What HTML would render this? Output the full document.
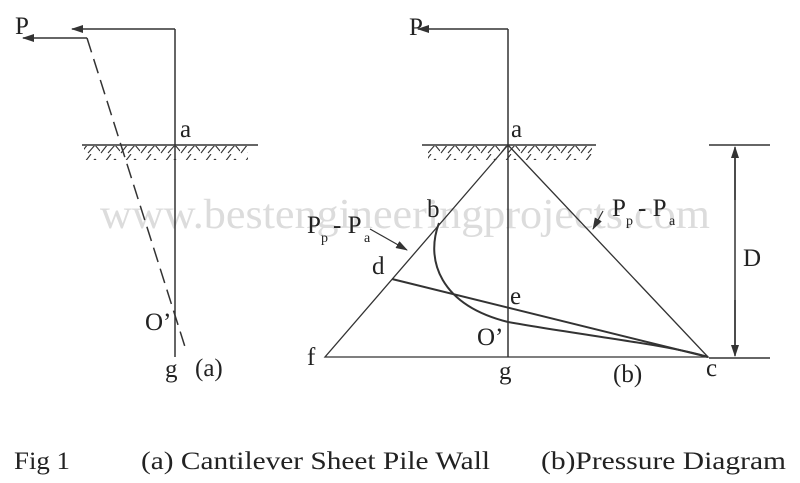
<!DOCTYPE html>
<html><head><style>
body{margin:0;background:#fff;}
svg{display:block}
text{font-family:"Liberation Serif",serif;fill:#222}
</style></head><body>
<svg width="800" height="483" viewBox="0 0 800 483" xmlns="http://www.w3.org/2000/svg">
<defs>
<marker id="ah" markerWidth="12" markerHeight="8" refX="11" refY="4" orient="auto" markerUnits="userSpaceOnUse">
<path d="M0,0 L12,4 L0,8 z" fill="#333"/></marker>
<pattern id="hatch" width="20" height="14" patternUnits="userSpaceOnUse">
<path d="M1,13 L11,0 M8,13 L15,5 M15,5 L20,11" stroke="#333" stroke-width="1.1" fill="none"/></pattern>
</defs>
<text x="100" y="228" font-size="42" textLength="610" lengthAdjust="spacingAndGlyphs" style="fill:#dcdcdc">www.bestengineeringprojects.com</text>
<g stroke="#333" stroke-width="1.5" fill="none">
<line x1="175" y1="29" x2="175" y2="357"/>
<line x1="175" y1="29" x2="72" y2="29" marker-end="url(#ah)"/>
<line x1="87" y1="38" x2="23" y2="38" marker-end="url(#ah)"/>
<line x1="87" y1="38" x2="186" y2="350" stroke-dasharray="15,7"/>
<line x1="82" y1="145" x2="258" y2="145"/>
<rect x="84" y="146" width="164" height="14" fill="url(#hatch)" stroke="none"/>
<line x1="508" y1="29" x2="508" y2="357"/>
<line x1="508" y1="29" x2="418" y2="29" marker-end="url(#ah)"/>
<line x1="422" y1="145" x2="596" y2="145"/>
<rect x="428" y="146" width="164" height="14" fill="url(#hatch)" stroke="none"/>
<path d="M508,145 L325,357 L708,357 Z" stroke-width="1.3"/>
<line x1="392" y1="279" x2="708" y2="357" stroke-width="2"/>
<path d="M439,223 C425,260 440,305 508,322 C580,335 670,345 708,357" stroke-width="2"/>
<line x1="370" y1="229" x2="407" y2="250" stroke-width="1.2" marker-end="url(#ah)"/>
<line x1="603" y1="211" x2="593" y2="229" stroke-width="1.2" marker-end="url(#ah)"/>
<line x1="709" y1="145" x2="770" y2="145"/>
<line x1="709" y1="358" x2="770" y2="358"/>
<line x1="735" y1="157" x2="735" y2="346"/>
<line x1="735" y1="200" x2="735" y2="147" marker-end="url(#ah)"/>
<line x1="735" y1="300" x2="735" y2="356" marker-end="url(#ah)"/>
</g>
<g font-size="25">
<text x="15" y="34">P</text>
<text x="180" y="137">a</text>
<text x="145" y="330">O’</text>
<text x="165" y="377">g</text>
<text x="195" y="376">(a)</text>
<text x="409" y="35">P</text>
<text x="511" y="137">a</text>
<text x="427" y="217">b</text>
<text x="372" y="274">d</text>
<text x="510" y="304">e</text>
<text x="477" y="345">O’</text>
<text x="307" y="365">f</text>
<text x="499" y="379">g</text>
<text x="613" y="382">(b)</text>
<text x="706" y="376">c</text>
<text x="743" y="266">D</text>
<text x="307" y="233">P</text><text x="321" y="242" font-size="14">p</text><text x="333" y="233">- P</text><text x="364" y="242" font-size="14">a</text>
<text x="612" y="216">P</text><text x="626" y="225" font-size="14">p</text><text x="638" y="216">- P</text><text x="669" y="225" font-size="14">a</text>
<text x="14" y="469" textLength="56" lengthAdjust="spacingAndGlyphs">Fig 1</text>
<text x="141" y="469" textLength="349" lengthAdjust="spacingAndGlyphs">(a) Cantilever Sheet Pile Wall</text>
<text x="541" y="469" textLength="245" lengthAdjust="spacingAndGlyphs">(b)Pressure Diagram</text>
</g>
</svg>
</body></html>
